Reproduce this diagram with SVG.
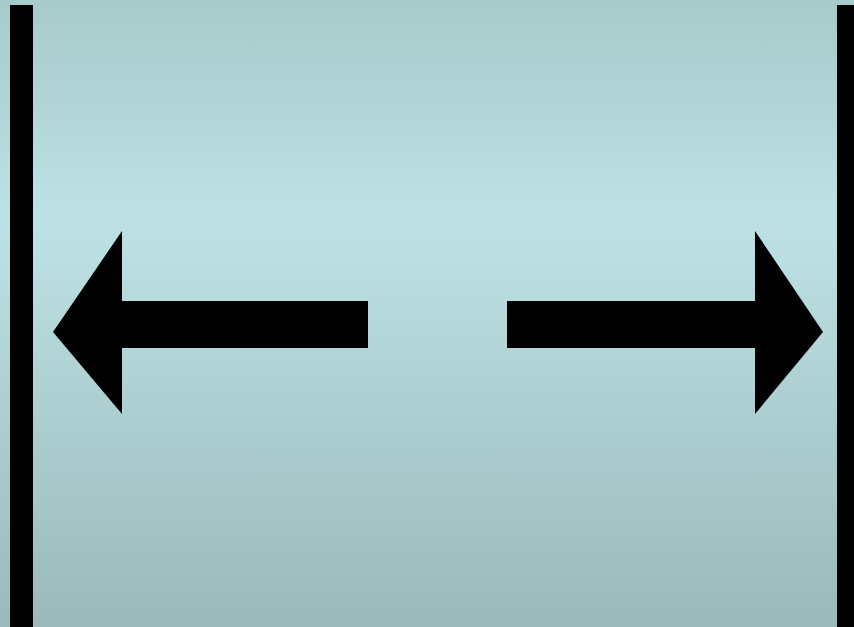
<svg xmlns="http://www.w3.org/2000/svg" width="854" height="627" viewBox="0 0 854 627">
<defs>
<linearGradient id="bg" x1="0" y1="0" x2="0" y2="1">
<stop offset="0" stop-color="#a7cacb"/>
<stop offset="0.35" stop-color="#bde2e5"/>
<stop offset="1" stop-color="#9bb9bb"/>
</linearGradient>
<style>.blk{fill:#000}</style>
</defs>
<rect x="0" y="0" width="854" height="627" fill="url(#bg)"/>
<g id="bar-left"><rect class="blk" x="10" y="5" width="23" height="622"/></g>
<g id="bar-right"><rect class="blk" x="837" y="5" width="17" height="622"/></g>
<g id="connectors">
<polygon class="blk" points="53,332 122,231 122,301 368,301 368,348 122,348 122,414"/>
<polygon class="blk" points="823,332 755,231 755,301 507,301 507,348 755,348 755,414"/>
</g>
</svg>
